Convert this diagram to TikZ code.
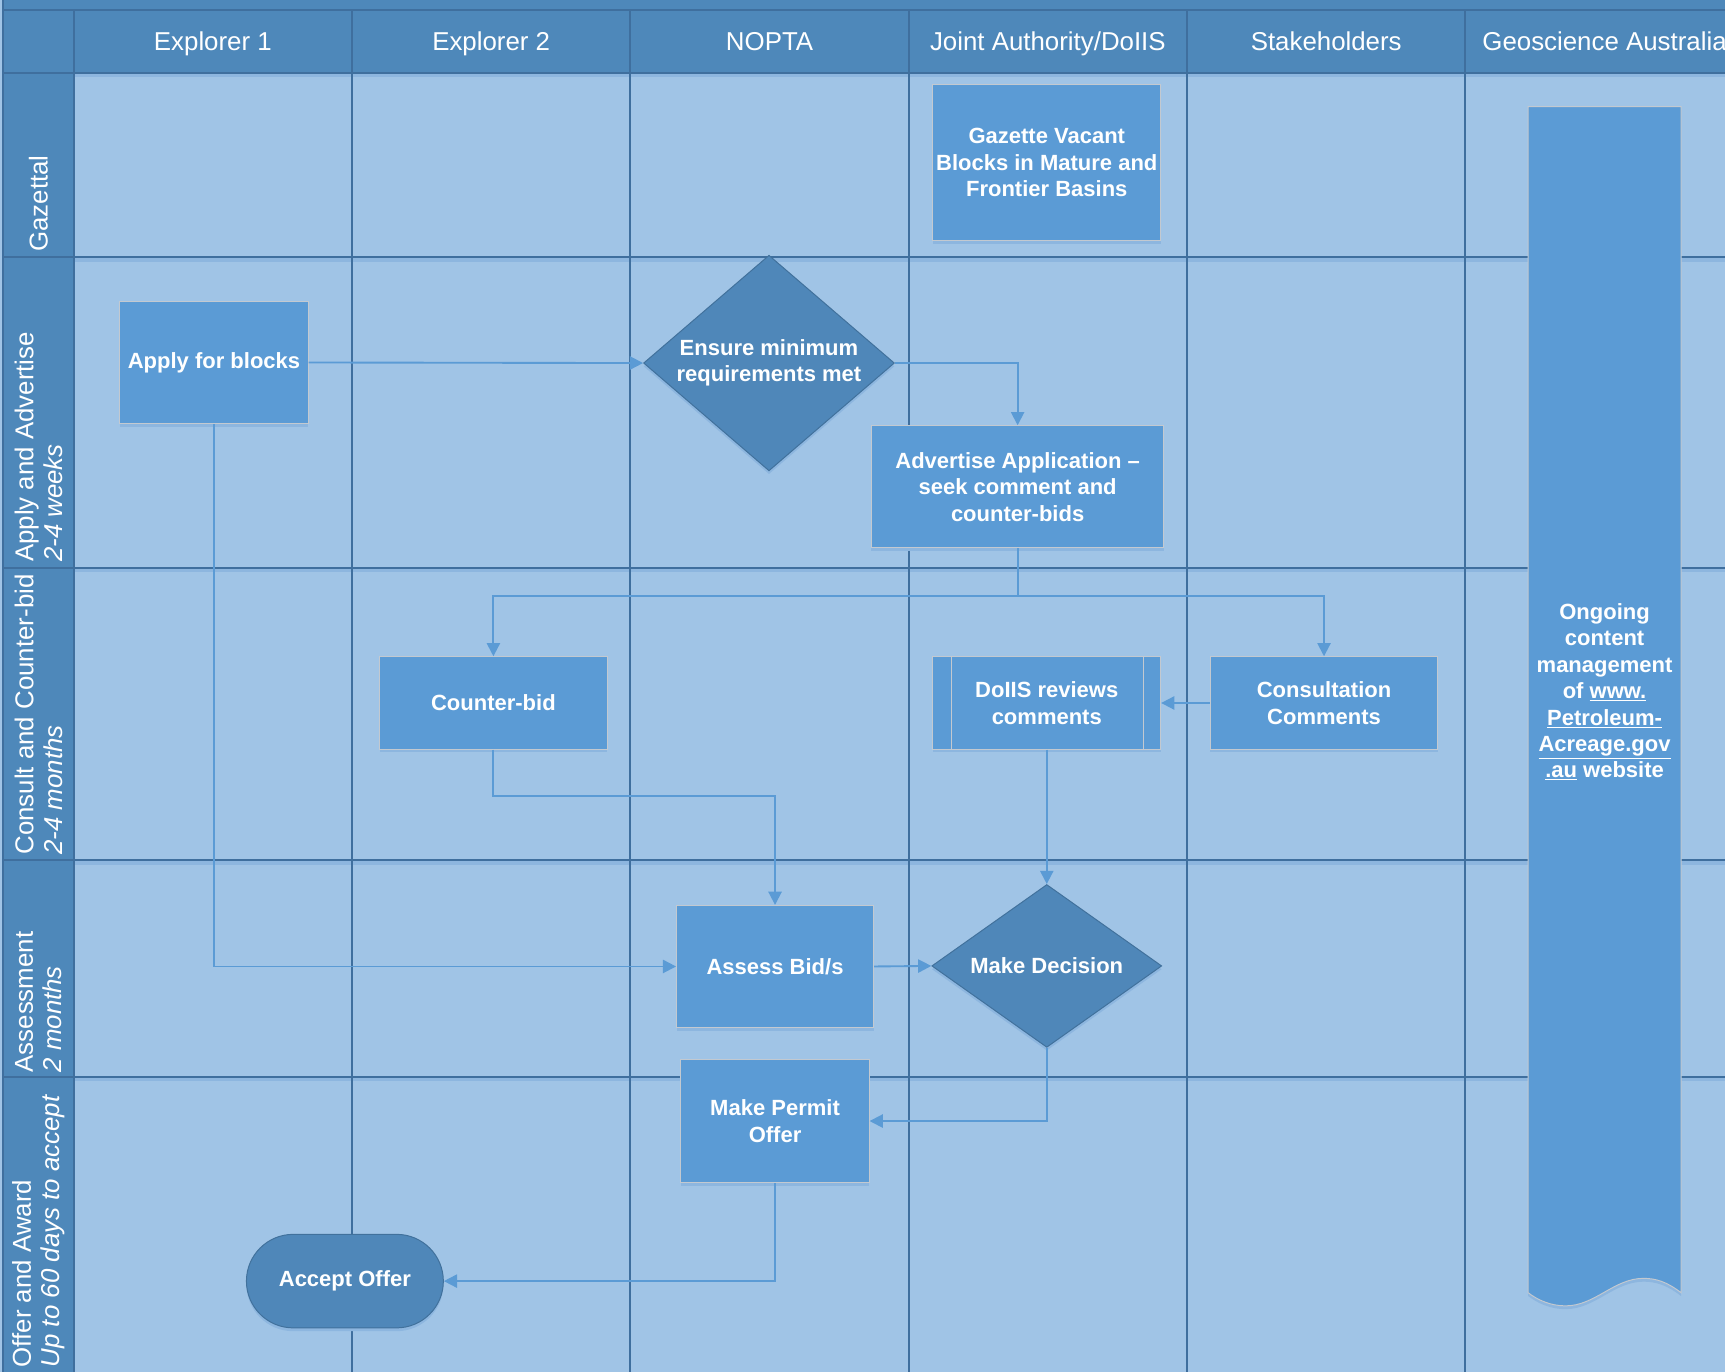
\documentclass[tikz,border=0pt]{standalone}
\usepackage{fontspec}
\setmainfont{Liberation Sans}
\usetikzlibrary{arrows.meta,shapes.geometric,shapes.misc,shadows,calc}
\definecolor{hdr}{HTML}{4E88BA}
\definecolor{lanebg}{HTML}{A0C4E6}
\definecolor{gridc}{HTML}{3F6F9E}
\definecolor{boxc}{HTML}{5B9BD5}
\definecolor{dia}{HTML}{4F87B9}
\definecolor{diab}{HTML}{41719C}
\definecolor{boxb}{HTML}{C3C9D0}
\definecolor{shad}{HTML}{8DB6DF}
\definecolor{arrc}{HTML}{5B9BD5}
\tikzset{
  boxfont/.style={font=\bfseries\fontsize{20}{24}\selectfont},
  procbox/.style={rectangle, fill=boxc, draw=boxb, line width=0.9pt, text=white, boxfont, align=center, inner sep=0pt, general shadow={fill=shad, shadow yshift=-3pt}},
  decision/.style={diamond, fill=dia, draw=diab, line width=0.9pt, text=white, boxfont, align=center, inner sep=0pt, general shadow={fill=shad, shadow yshift=-3pt}},
  termin/.style={rounded rectangle, fill=dia, draw=diab, line width=0.9pt, text=white, boxfont, align=center, inner sep=0pt, general shadow={fill=shad, shadow yshift=-3pt}},
  conn/.style={draw=arrc, line width=1.7pt, -{Triangle[length=12pt,width=12pt]}},
  hdrtxt/.style={text=white, font=\fontsize{23.5}{27}\selectfont, inner sep=0pt, anchor=base},
  lanetxt/.style={text=white, font=\fontsize{23.5}{26}\selectfont, rotate=90, anchor=west, align=left, inner sep=0pt},
  gridln/.style={draw=gridc, line width=1.8pt}
}
\begin{document}
\begin{tikzpicture}[x=1pt,y=-1pt]
\useasboundingbox (0,0) rectangle (1568,1247);
\clip (0,0) rectangle (1568,1247);
% backgrounds
\fill[lanebg] (0,0) rectangle (1568,1247);
\fill[hdr] (3,0) rectangle (1568,66);
\fill[hdr] (3,0) rectangle (67,1247);
\foreach \yy in {66,234,516,782,979}{
  \fill[shad] (67,\yy) rectangle (1568,\yy+4);
}
% grid
\draw[gridln] (3,9) -- (1568,9);
\foreach \yy in {66,234,516,782,979}{
  \draw[gridln] (3,\yy) -- (1568,\yy);
}
\draw[gridln] (3,0) -- (3,1247);
\foreach \xx in {67,320,573,826,1079,1332}{
  \draw[gridln] (\xx,9) -- (\xx,1247);
}
% headers
\node[hdrtxt] (h1) at (193.5,45.5) {Explorer 1};
\node[hdrtxt] (h2) at (446.5,45.5) {Explorer 2};
\node[hdrtxt] (h3) at (699.5,45.5) {NOPTA};
\node[hdrtxt] (h4) at (952.5,45.5) {Joint Authority/DoIIS};
\node[hdrtxt] (h5) at (1205.5,45.5) {Stakeholders};
\node[hdrtxt] (h6) at (1458.5,45.5) {Geoscience Australia};
% lane labels
\node[lanetxt] (l1) at (35,229) {Gazettal};
\node[lanetxt] (l2) at (35,511) {Apply and Advertise\\\textit{2-4 weeks}};
\node[lanetxt] (l3) at (35,777) {Consult and Counter-bid\\\textit{2-4 months}};
\node[lanetxt] (l4) at (35,975) {Assessment\\\textit{2 months}};
\node[lanetxt] (l5) at (35,1243) {Offer and Award\\\textit{Up to 60 days to accept}};
% document shape
\path[fill=shad] (1389,100) -- (1528,100) -- (1528,1178)
  .. controls (1515,1168) and (1505,1165) .. (1494,1165)
  .. controls (1467,1165) and (1450,1190) .. (1423,1190)
  .. controls (1410,1190) and (1398,1185) .. (1389,1178) -- cycle;
\path[fill=boxc, draw=boxb, line width=0.9pt] (1389,97) -- (1528,97) -- (1528,1175)
  .. controls (1515,1165) and (1505,1162) .. (1494,1162)
  .. controls (1467,1162) and (1450,1187) .. (1423,1187)
  .. controls (1410,1187) and (1398,1182) .. (1389,1175) -- cycle;
\node[text=white, boxfont, align=center, inner sep=0pt] (web) at (1458.5,629)
  {Ongoing\\content\\management\\of \underline{www.}\\\underline{Petroleum-}\\\underline{Acreage.gov}\\\underline{.au} website};
% nodes
\node[procbox, minimum width=207pt, minimum height=142pt] (gaz) at (951.5,148) {Gazette Vacant\\Blocks in Mature and\\Frontier Basins};
\node[procbox, minimum width=171pt, minimum height=111pt] (apply) at (194.5,329.5) {Apply for blocks};
\node[decision, aspect=1.163, minimum width=228pt, minimum height=196pt] (ens) at (699,330) {Ensure minimum\\requirements met};
\node[procbox, minimum width=266pt, minimum height=111pt] (adv) at (925,442.5) {Advertise Application --\\seek comment and\\counter-bids};
\node[procbox, minimum width=207pt, minimum height=84pt] (cb) at (448.5,639) {Counter-bid};
\node[procbox, minimum width=207pt, minimum height=84pt] (doiis) at (951.5,639) {DoIIS reviews\\comments};
\draw[boxb, line width=0.9pt] ($(doiis.north west)+(17,0)$) -- ($(doiis.south west)+(17,0)$);
\draw[boxb, line width=0.9pt] ($(doiis.north east)+(-16,0)$) -- ($(doiis.south east)+(-16,0)$);
\node[procbox, minimum width=207pt, minimum height=84pt] (cons) at (1203.5,639) {Consultation\\Comments};
\node[procbox, minimum width=179pt, minimum height=111pt] (assess) at (704.5,878.5) {Assess Bid/s};
\node[decision, aspect=1.41, minimum width=209pt, minimum height=148pt] (dec) at (951.5,878) {Make Decision};
\node[procbox, minimum width=171pt, minimum height=112pt] (permit) at (704.5,1019) {Make Permit\\Offer};
\node[termin, minimum width=179pt, minimum height=85pt] (accept) at (313.5,1164.5) {Accept Offer};
% connectors
\draw[conn] (apply.east) -- (ens.west);
\draw[conn] (ens.east) -| (adv.north);
\draw[draw=arrc, line width=1.7pt] (adv.south) -- ++(0,43) coordinate (split);
\draw[conn] (split) -| (cb.north);
\draw[conn] (split) -| (cons.north);
\draw[conn] (cons.west) -- (doiis.east);
\draw[conn] (doiis.south) -- (dec.north);
\draw[conn] (cb.south) -- ++(0,42) -| (assess.north);
\draw[conn] (apply.south) |- (assess.west);
\draw[conn] (assess.east) -- (dec.west);
\draw[conn] (dec.south) |- (permit.east);
\draw[conn] (permit.south) |- (accept.east);
\end{tikzpicture}
\end{document}
